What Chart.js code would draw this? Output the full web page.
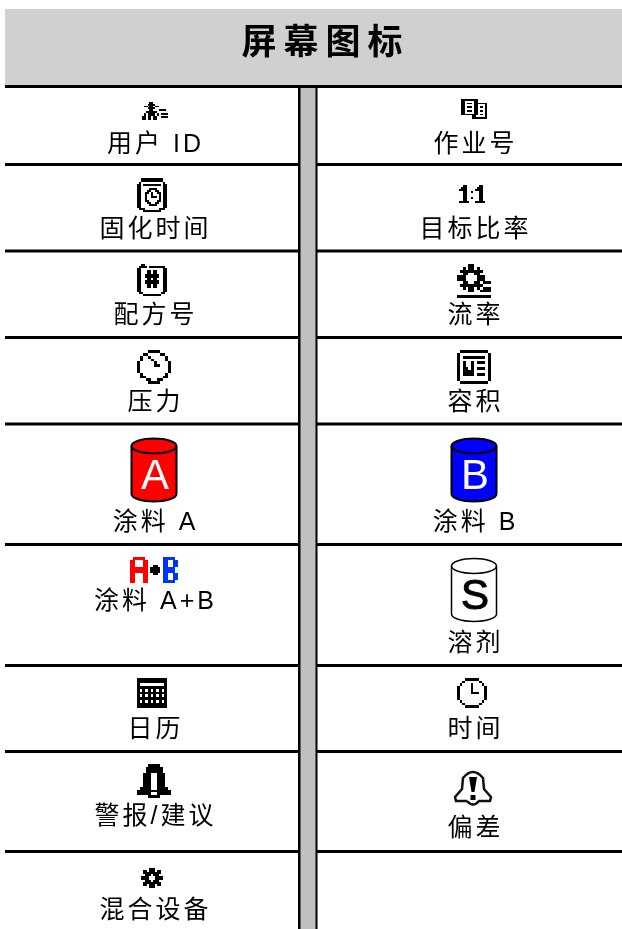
<!DOCTYPE html>
<html lang="zh">
<head>
<meta charset="utf-8">
<title>屏幕图标</title>
<script src="https://cdn.jsdelivr.net/npm/chart.js@4/dist/chart.umd.min.js"></script>
<style>
    html, body { margin: 0; padding: 0; background: #fff; overflow: hidden; }
    canvas { display: block; }
</style>
</head>
<body>
<canvas id="iconTable" width="622" height="929"></canvas>
<script>
// ==================== TABLE DATA ====================
const titleText = '屏幕图标';

const leftLabels = ['用户 ID', '固化时间', '配方号', '压力', '涂料 A', '涂料 A+B', '日历', '警报/建议', '混合设备'];
const leftLabelY = [145, 230, 316, 403, 523, 602, 730, 817, 911];
const leftIcons = ['userId', 'cureTime', 'recipe', 'gauge', 'drumA', 'aPlusB', 'calendar', 'alarm', 'gear'];
const leftIconX = [155, 152, 152, 154, 154, 154, 152, 154, 152];
const leftIconY = [111, 195, 280, 367, 470, 570, 693, 781, 878];

const rightLabels = ['作业号', '目标比率', '流率', '容积', '涂料 B', '溶剂', '时间', '偏差'];
const rightLabelY = [145, 230, 316, 403, 523, 644, 730, 829];
const rightIcons = ['job', 'ratio', 'flow', 'volume', 'drumB', 'drumS', 'clock', 'deviation'];
const rightIconX = [474, 472, 474, 474, 474, 474, 472, 473];
const rightIconY = [109, 194, 281, 367, 470, 590, 693, 789];

const rowLines = [164.5, 251, 337.5, 424, 544.5, 665.5, 751.5, 851.5];

// ==================== ICON SPRITES ====================
const bitmaps = {
    userId: ['....##........', '...####.......', '.##.##.##.....', '...####.......', '....##...####.',
             '..######......', '.#.####.#.####', '.#.####.#.....', '##.##.##..####', '##.##.##......'],
    job: ['#########.....', '##.....##.....', '##.###.#######', '##.....##....#', '##.###.##.##.#',
          '##.....##....#', '##.###.##.##.#', '##.....##....#', '#########.##.#', '......##.....#', '......########'],
    cureTime: ['..###########..', '..###########..', '.#...........#.', '##.#########.##', '##...........##',
               '##....####...##', '##...##..##..##', '##..##.#..##.##', '##..#..#...#.##', '##..#..###.#.##',
               '##..#......#.##', '##..##....##.##', '##...##..##..##', '##....####...##', '##...........##',
               '.###.......###.', '...#########...'],
    ratio: ['..##......##.', '.###.....###.', '####....####.', '..##..#...##.', '..##......##.',
            '..##......##.', '..##..#...##.', '..##......##.', '#####...#####'],
    recipe: ['..##...........', '.####.########.', '##...........##', '##...##.##...##', '##...##.##...##',
             '##..#######..##', '##..#######..##', '##...##.##...##', '##..#######..##', '##..#######..##',
             '##...##.##...##', '##...##.##...##', '##...........##', '##...........##', '.##.........##.', '...#########...'],
    flow: ['....##......', '..#.##.#....', '.########...', '..##..##....', '###....###..', '###....###..',
           '..##..##.###', '.########...', '..#.##.#.###', '....##..####', '............', '############'],
    gauge: ['....####....', '..##....##..', '.#..#.....#.', '.#...#....#.', '#.....#....#', '#.....##...#',
            '#..........#', '#..........#', '.#........#.', '.##......##.', '...##..##...', '....####....'],
    volume: ['.##########.', '#..........#', '#.########.#', '#..........#', '#.#..#.###.#', '#.#..#.....#',
             '#.##.#.###.#', '#.####.....#', '#.####.###.#', '#..........#', '#..........#', '.##########.'],
    aPlusB: ['.RRRRR.......BBBBB.', 'RR...RR......BB..BB', 'RR...RR......BB..BB', 'RR...RR..KK..BB..BB',
             'RRRRRRR.KKKK.BBBBB.', 'RRRRRRR.KKKK.BBBBB.', 'RR...RR..KK..BB..BB', 'RR...RR......BB..BB',
             'RR...RR......BB..BB', 'RR...RR......BBBBB.'],
    calendar: ['###########', '###########', '#.........#', '###########', '#.#.#.#.#.#', '###########',
               '#.#.#.#.#.#', '###########', '#.#.#.#.#.#', '###########', '###########'],
    clock: ['...#####...', '..#.....#..', '.#...#...#.', '#....#....#', '#....#....#', '#....###..#',
            '#.........#', '#.........#', '.#.......#.', '..#.....#..', '...#####...'],
    alarm: ['....####....', '...######...', '...######...', '..###..###..', '..###..###..', '..###..###..',
            '..###..###..', '..###..###..', '.####..####.', '############', '#####..#####', '....####....'],
    gear: ['....###....', '.##.###.##.', '.#########.', '..###.###..', '####...####', '####...####',
           '..###.###..', '.#########.', '.##.###.##.', '....###....']
};
const spriteSizes = {
    userId: [26, 18], job: [26, 20], cureTime: [30, 34], ratio: [26, 18], recipe: [30, 32], flow: [34, 34],
    gauge: [34, 34], volume: [34, 34], aPlusB: [48, 26], calendar: [30, 30], clock: [30, 30], alarm: [34, 34], gear: [22, 20],
    drumA: [48, 66], drumB: [48, 66], drumS: [48, 66], deviation: [40, 38]
};
const palette = { '#': '#000', K: '#000', R: '#ff0000', B: '#0033ff' };

function newSprite(name) {
    const sprite = document.createElement('canvas');
    sprite.width = spriteSizes[name][0];
    sprite.height = spriteSizes[name][1];
    return sprite;
}

function bitmapSprite(name) {
    const sprite = newSprite(name);
    const ctx = sprite.getContext('2d');
    const rows = bitmaps[name];
    const cellW = sprite.width / rows[0].length;
    const cellH = sprite.height / rows.length;
    rows.forEach((row, r) => {
        [...row].forEach((cell, c) => {
            if (cell === '.') return;
            ctx.fillStyle = palette[cell];
            ctx.fillRect(Math.round(c * cellW), Math.round(r * cellH),
                Math.round((c + 1) * cellW) - Math.round(c * cellW),
                Math.round((r + 1) * cellH) - Math.round(r * cellH));
        });
    });
    return sprite;
}

// paint drums, the letter sits on the body
function drumSprite(name, fill, letterColor, letter, lineWidth) {
    const sprite = newSprite(name);
    const ctx = sprite.getContext('2d');
    const w = sprite.width, h = sprite.height;
    ctx.lineWidth = lineWidth;
    ctx.strokeStyle = '#000';
    ctx.fillStyle = fill;
    ctx.beginPath();
    ctx.moveTo(1.5, 9);
    ctx.lineTo(1.5, h - 9);
    ctx.ellipse(w / 2, h - 9, w / 2 - 1.5, 7.5, 0, Math.PI, 0, true);
    ctx.lineTo(w - 1.5, 9);
    ctx.ellipse(w / 2, 9, w / 2 - 1.5, 7.5, 0, 0, Math.PI, true);
    ctx.closePath();
    ctx.fill();
    ctx.stroke();
    ctx.beginPath();
    ctx.ellipse(w / 2, 9, w / 2 - 1.5, 7.5, 0, 0, Math.PI);
    ctx.stroke();
    ctx.fillStyle = letterColor;
    ctx.font = '42px "Liberation Sans"';
    ctx.textAlign = 'center';
    ctx.textBaseline = 'middle';
    ctx.fillText(letter, w / 2 + 1, h / 2 + 7);
    if (letter === 'S') {
        ctx.strokeStyle = letterColor;
        ctx.lineWidth = 1;
        ctx.strokeText(letter, w / 2 + 1, h / 2 + 7);
    }
    return sprite;
}

function deviationSprite() {
    const sprite = newSprite('deviation');
    const ctx = sprite.getContext('2d');
    ctx.lineWidth = 2.5;
    ctx.strokeStyle = '#111';
    ctx.beginPath();
    ctx.moveTo(14, 31);
    ctx.lineTo(3, 31);
    ctx.lineTo(2, 27);
    ctx.lineTo(9, 19);
    ctx.lineTo(10, 8);
    ctx.quadraticCurveTo(20, -4, 30, 8);
    ctx.lineTo(31, 19);
    ctx.lineTo(38, 27);
    ctx.lineTo(37, 31);
    ctx.lineTo(26, 31);
    ctx.quadraticCurveTo(20, 38, 14, 31);
    ctx.stroke();
    ctx.fillStyle = '#000';
    ctx.beginPath();
    ctx.moveTo(16, 7);
    ctx.lineTo(24, 7);
    ctx.lineTo(21.5, 22);
    ctx.lineTo(18.5, 22);
    ctx.closePath();
    ctx.fill();
    ctx.fillRect(17.5, 25, 5, 5);
    return sprite;
}

const sprites = {
    drumA: drumSprite('drumA', '#ff0000', '#fff', 'A', 2),
    drumB: drumSprite('drumB', '#0000ff', '#fff', 'B', 2),
    drumS: drumSprite('drumS', '#fff', '#000', 'S', 1.5),
    deviation: deviationSprite()
};
Object.keys(bitmaps).forEach(name => { sprites[name] = bitmapSprite(name); });

// ==================== CHART ====================
const LEFT_X = 154, RIGHT_X = 474;

function segment(x1, x2, y, color, width) {
    return {
        data: [{ x: x1, y }, { x: x2, y }],
        showLine: true, pointRadius: 0, borderColor: color, borderWidth: width, borderCapStyle: 'butt'
    };
}

function column(x, color, width) {
    return {
        data: [{ x, y: 88 }, { x, y: 929 }],
        showLine: true, pointRadius: 0, borderColor: color, borderWidth: width, borderCapStyle: 'butt'
    };
}

// all cell text and the title go through the same scales as the marks
const tableText = {
    id: 'tableText',
    afterDatasetsDraw(chart) {
        const { ctx, scales: { x, y } } = chart;
        const put = (text, px, py, font, spacing) => {
            ctx.font = font;
            ctx.letterSpacing = spacing + 'px';
            ctx.fillText(text, x.getPixelForValue(px) + spacing / 2, y.getPixelForValue(py));
        };
        ctx.save();
        ctx.fillStyle = '#000';
        ctx.textAlign = 'center';
        ctx.textBaseline = 'middle';
        const bodyFont = '25px "Liberation Sans", "Noto Sans CJK SC"';
        put(titleText, 322, 41, 'bold 35px "Noto Sans CJK SC"', 7);
        leftLabels.forEach((text, i) => put(text, LEFT_X, leftLabelY[i], bodyFont, 3));
        rightLabels.forEach((text, i) => put(text, RIGHT_X, rightLabelY[i], bodyFont, 3));
        ctx.restore();
    }
};

const iconPoints = [
    ...leftIcons.map((name, i) => ({ x: leftIconX[i], y: leftIconY[i], name })),
    ...rightIcons.map((name, i) => ({ x: rightIconX[i], y: rightIconY[i], name }))
];

new Chart(document.getElementById('iconTable').getContext('2d'), {
    type: 'scatter',
    data: {
        datasets: [
            segment(5, 622, 47, '#d0d0d0', 76),
            column(308, '#c0c0c0', 15),
            column(299.5, '#000', 3),
            column(316, '#000', 3),
            segment(5, 622, 86.5, '#000', 3),
            ...rowLines.flatMap(y => [segment(5, 298, y, '#000', 3), segment(317, 622, y, '#000', 3)]),
            {
                data: iconPoints,
                pointStyle: iconPoints.map(p => sprites[p.name]),
                pointRadius: 5
            }
        ]
    },
    options: {
        responsive: false,
        animation: false,
        layout: { padding: 0, autoPadding: false },
        plugins: { legend: { display: false }, tooltip: { enabled: false } },
        scales: {
            x: { display: false, type: 'linear', min: 0, max: 622 },
            y: { display: false, type: 'linear', min: 0, max: 929, reverse: true }
        }
    },
    plugins: [tableText]
});
</script>
</body>
</html>
